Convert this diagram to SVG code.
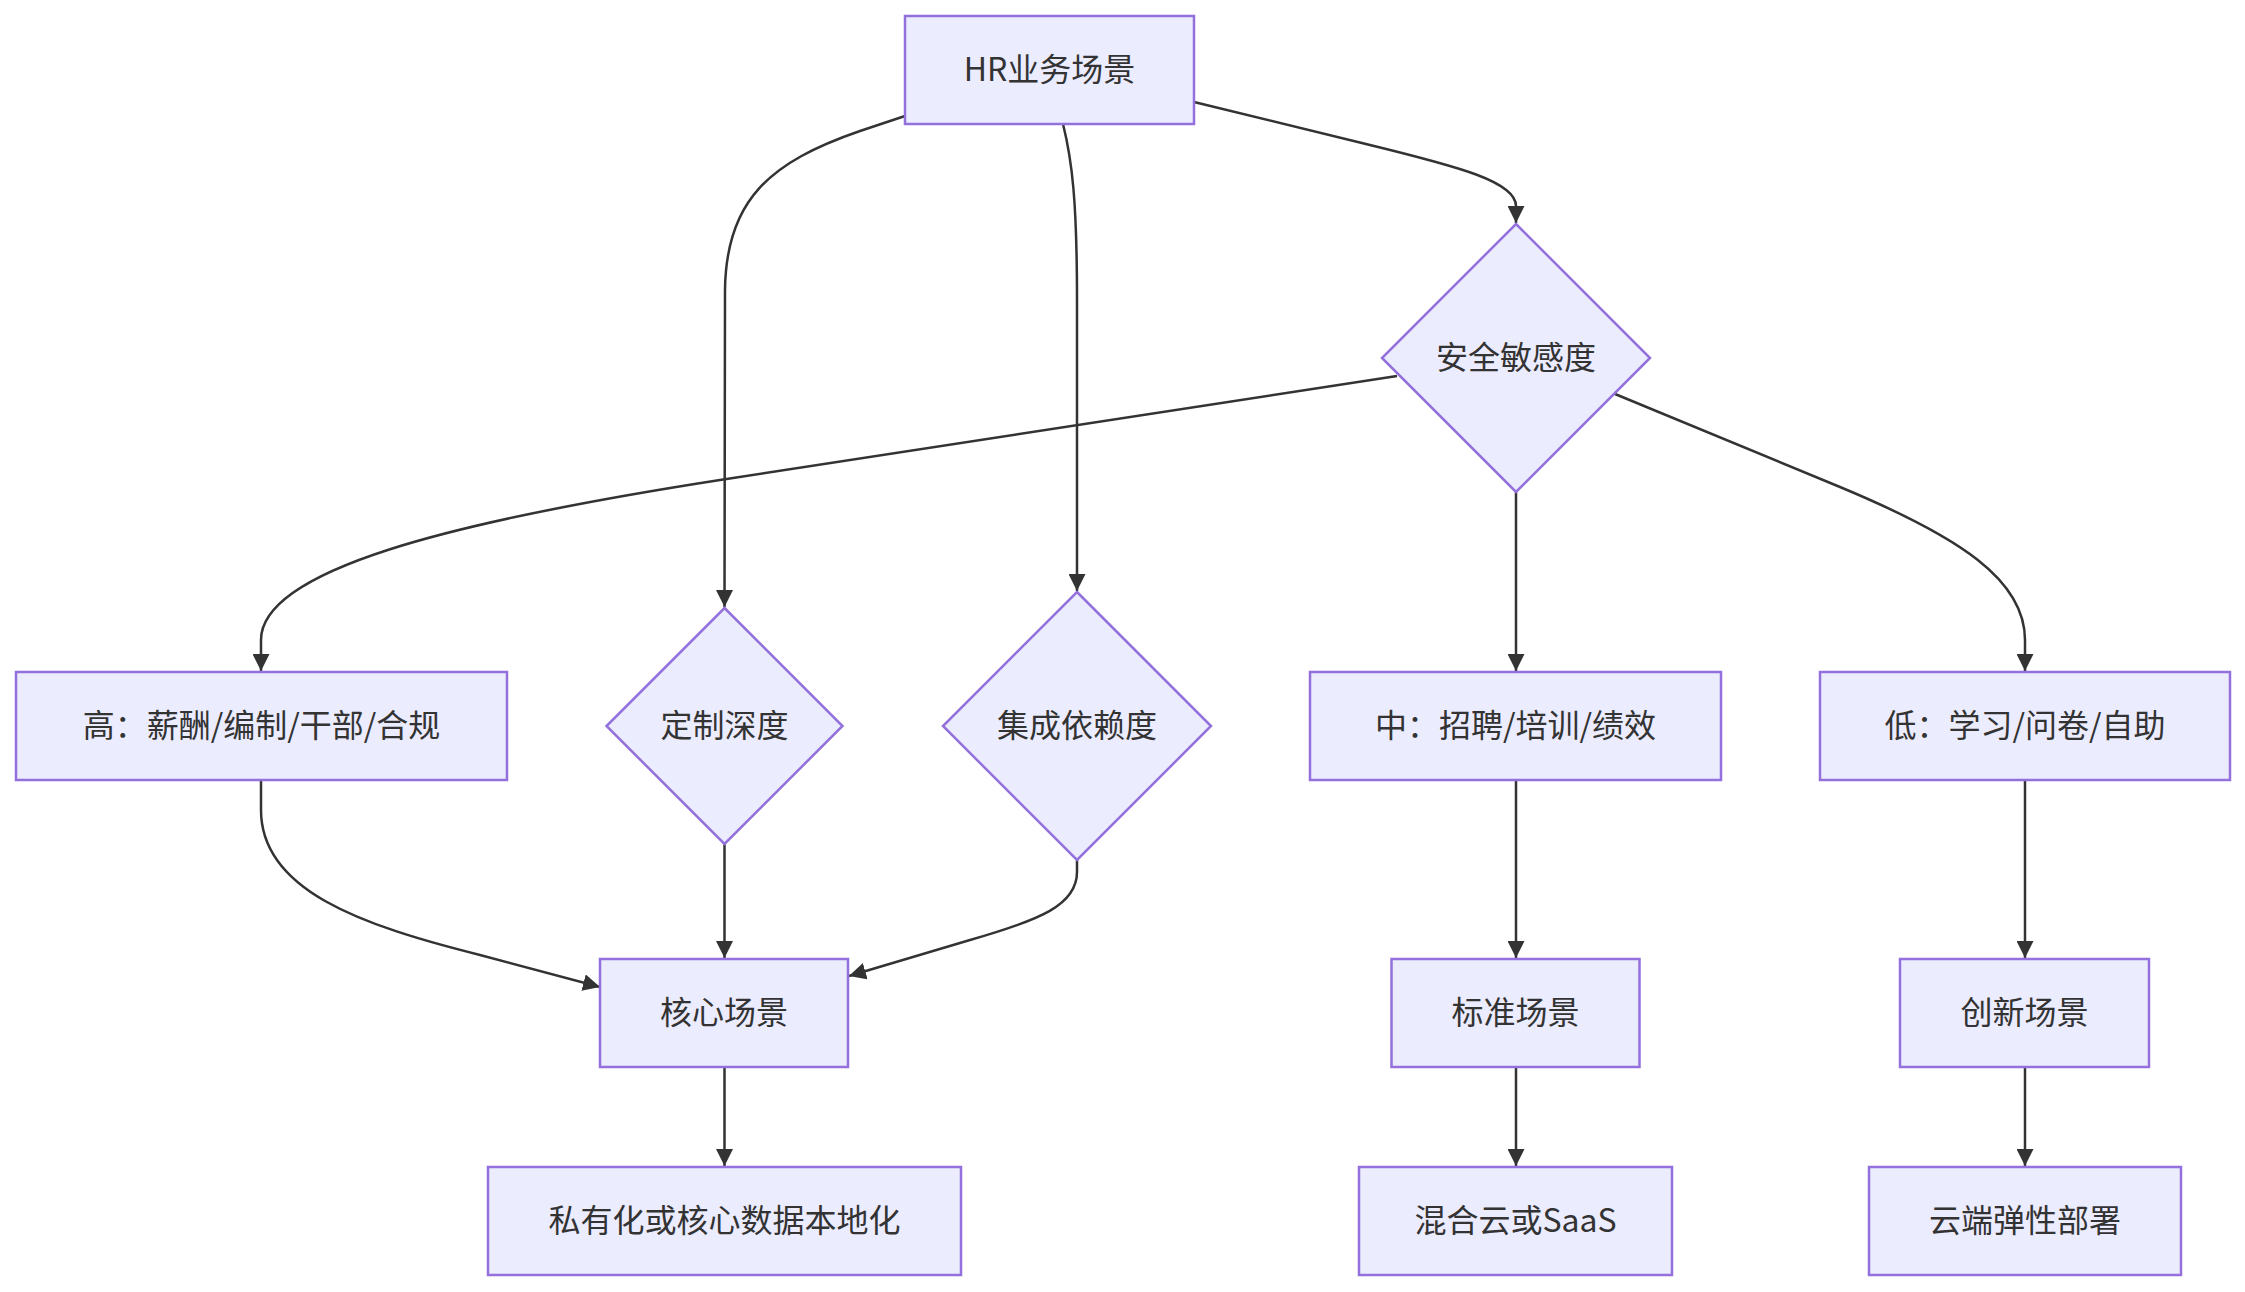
<svg xmlns="http://www.w3.org/2000/svg" width="2245" height="1292" viewBox="0 0 2245 1292">
<style>
.node rect, .node polygon { fill: #ECECFF; stroke: #9370DB; stroke-width: 2.5; }
.node text { font-family: "Noto Sans CJK SC", "Liberation Sans", sans-serif; font-size: 32px; fill: #333333; text-anchor: middle; dominant-baseline: central; }
.edges path { fill: none; stroke: #333333; stroke-width: 2.5; marker-end: url(#arrow); }
</style>
<defs>
<marker id="arrow" viewBox="0 0 10 10" refX="10" refY="5" markerUnits="userSpaceOnUse" markerWidth="17" markerHeight="17" orient="auto">
<path d="M0,0 L10,5 L0,10 z" fill="#333333"/>
</marker>
</defs>
<rect width="2245" height="1292" fill="#ffffff"/>
<g class="edges">
<path d="M905,116 L860,131 C770,162 726,200 725,290 L724.5,607"/>
<path d="M1063,124 C1072,160 1077,200 1077,300 L1077,591"/>
<path d="M1194,102 L1370,145 C1460,167 1516,182 1516,206 L1516,223"/>
<path d="M1397,376 L720,480 C450,522 261,570 261,640 L261,671"/>
<path d="M1516,492 L1516,671"/>
<path d="M1615,394 L1840,487 C1960,537 2025,580 2025,640 L2025,671"/>
<path d="M261,780 L261,810 C261,890 360,925 480,955 L600,987"/>
<path d="M724.5,844 L724.5,958"/>
<path d="M1077,860 L1077,872 C1077,905 1040,920 970,940 L849,976"/>
<path d="M1516,780 L1516,958"/>
<path d="M2025,780 L2025,958"/>
<path d="M724.5,1067 L724.5,1166"/>
<path d="M1516,1067 L1516,1166"/>
<path d="M2025,1067 L2025,1166"/>
</g>
<g id="hr" class="node"><rect x="905" y="16" width="289" height="108"/><text x="1049.5" y="67">HR业务场景</text></g>
<g id="security" class="node"><polygon points="1516,224 1650,358 1516,492 1382,358"/><text x="1516" y="355">安全敏感度</text></g>
<g id="high" class="node"><rect x="16" y="672" width="491" height="108"/><text x="261.5" y="723">高：薪酬/编制/干部/合规</text></g>
<g id="custom" class="node"><polygon points="724.5,608 842.5,726 724.5,844 606.5,726"/><text x="724.5" y="723">定制深度</text></g>
<g id="integration" class="node"><polygon points="1077,592 1211,726 1077,860 943,726"/><text x="1077" y="723">集成依赖度</text></g>
<g id="mid" class="node"><rect x="1310" y="672" width="411" height="108"/><text x="1515.5" y="723">中：招聘/培训/绩效</text></g>
<g id="low" class="node"><rect x="1820" y="672" width="410" height="108"/><text x="2025" y="723">低：学习/问卷/自助</text></g>
<g id="core" class="node"><rect x="600" y="959" width="248" height="108"/><text x="724" y="1010">核心场景</text></g>
<g id="standard" class="node"><rect x="1391.5" y="959" width="248" height="108"/><text x="1515.5" y="1010">标准场景</text></g>
<g id="innovation" class="node"><rect x="1900" y="959" width="249" height="108"/><text x="2024.5" y="1010">创新场景</text></g>
<g id="private" class="node"><rect x="488" y="1167" width="473" height="108"/><text x="724.5" y="1218">私有化或核心数据本地化</text></g>
<g id="hybrid" class="node"><rect x="1359" y="1167" width="313" height="108"/><text x="1515.5" y="1218">混合云或SaaS</text></g>
<g id="cloud" class="node"><rect x="1869" y="1167" width="312" height="108"/><text x="2025" y="1218">云端弹性部署</text></g>
</svg>
